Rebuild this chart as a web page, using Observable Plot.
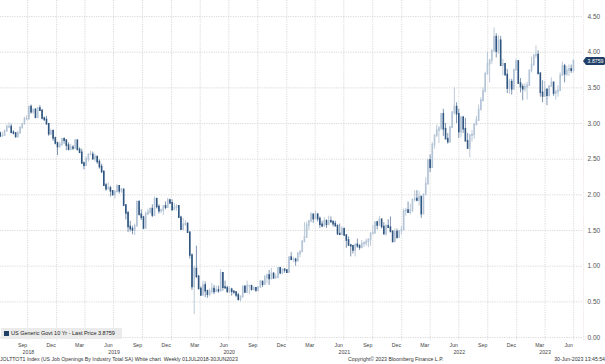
<!DOCTYPE html>
<html>
<head>
<meta charset="utf-8">
<script src="https://cdn.jsdelivr.net/npm/d3@7"></script>
<script src="https://cdn.jsdelivr.net/npm/@observablehq/plot@0.6"></script>
<style>
  html, body { margin: 0; padding: 0; background: #fff; }
  body { font-family: "Liberation Sans", Arial, sans-serif; }
  #wrap { position: relative; width: 605px; height: 364px; overflow: hidden; }
  #chart svg { display: block; }
  #legend { position: absolute; left: 1px; top: 328px; height: 11px; width: 121px; background: #ebebeb;
            font-size: 5.5px; color: #222; line-height: 11px; white-space: nowrap; }
  #legend .sw { display: inline-block; width: 5px; height: 5px; background: #1f3f66; margin: 0 2px 0 3px; vertical-align: -0.5px; }
  #tag { position: absolute; left: 586px; width: 19px; height: 8px; background: #1f3f66; color: #fff;
         font-size: 5.2px; line-height: 8px; text-align: center; border-radius: 0 1.5px 1.5px 0; }
  #tag::before { content: ""; position: absolute; left: -3px; top: 0; border-top: 4px solid transparent;
                 border-bottom: 4px solid transparent; border-right: 3px solid #1f3f66; }
  #footer { position: absolute; left: 0; top: 355px; width: 605px; height: 9px; font-size: 5.2px; color: #333; line-height: 9px; white-space: nowrap; }
  #footer span { position: absolute; top: 0; }
</style>
</head>
<body>
<div id="wrap">
  <div id="chart"></div>
  <div id="legend"><span class="sw"></span>US Generic Govt 10 Yr - Last Price 3.8759</div>
  <div id="tag">3.8759</div>
  <div id="footer">
    <span style="left:0">JOLTTOT1 Index (US Job Openings By Industry Total SA) White chart&nbsp; Weekly 01JUL2018-30JUN2023</span>
    <span style="left:348px">Copyright© 2023 Bloomberg Finance L.P.</span>
    <span style="right:0">30-Jun-2023 13:45:54</span>
  </div>
</div>
<script>
// Weekly bars (Fridays) from 6 Jul 2018 to 30 Jun 2023
const firstFriday = new Date(Date.UTC(2018, 6, 6));
const lastPrice = 3.8759;
const seriesName = "US Generic Govt 10 Yr - Last Price";

const open = [
  2.86,2.82,2.83,2.89,2.95,2.95,2.87,2.86,2.81,2.86,2.94,2.99,3.06,3.06,3.23,3.16,3.19,3.08,3.21,3.18,3.07,3.05,2.99,2.85,2.89,2.79,
  2.72,2.67,2.70,2.78,2.76,2.69,2.63,2.66,2.65,2.76,2.63,2.59,2.44,2.41,2.50,2.56,2.56,2.50,2.53,2.46,2.39,2.32,2.13,2.08,2.09,2.05,2.00,2.04,2.12,2.05,2.07,1.85,1.74,1.55,1.52,1.50,1.56,1.90,1.72,1.68,1.53,1.73,1.75,1.80,1.71,1.94,1.83,1.77,1.78,1.84,1.82,1.92,
  1.88,1.79,1.82,1.84,1.68,1.51,1.58,1.59,1.47,1.15,0.71,0.96,0.85,0.68,0.59,0.73,0.65,0.60,0.64,0.68,0.64,0.66,0.65,0.90,0.70,0.69,0.64,0.67,0.64,0.63,0.59,0.53,0.57,0.71,0.63,0.72,0.72,0.67,0.69,0.66,0.70,0.78,0.74,0.84,0.87,0.82,0.89,0.83,0.84,0.97,0.90,0.95,
  0.94,0.91,1.12,1.09,1.09,1.07,1.17,1.20,1.34,1.40,1.57,1.63,1.72,1.66,1.72,1.66,1.58,1.56,1.63,1.58,1.63,1.62,1.59,1.56,1.45,1.44,1.52,1.43,1.36,1.29,1.28,1.22,1.30,1.28,1.26,1.31,1.32,1.34,1.37,1.45,1.46,1.61,1.57,1.65,1.55,1.45,1.56,1.54,1.48,1.34,1.48,1.40,1.49,
  1.51,1.77,1.78,1.75,1.78,1.93,1.94,1.92,1.97,1.73,2.00,2.15,2.48,2.38,2.70,2.83,2.90,2.93,3.13,2.92,2.78,2.74,2.94,3.15,3.23,3.13,2.88,3.08,2.92,2.75,2.65,2.83,2.84,2.98,3.04,3.19,3.32,3.45,3.69,3.83,3.88,4.02,4.21,4.01,4.16,3.81,3.83,3.68,3.49,3.58,3.48,3.75,
  3.87,3.56,3.51,3.48,3.51,3.53,3.74,3.82,3.95,3.96,3.70,3.43,3.38,3.47,3.39,3.52,3.57,3.42,3.44,3.46,3.67,3.80,3.69,3.74,3.76,3.74
];
const high = [
  2.88,2.88,2.91,2.98,3.01,2.99,2.90,2.87,2.89,2.95,3.00,3.09,3.11,3.24,3.26,3.20,3.21,3.22,3.25,3.19,3.09,3.10,3.00,2.92,2.91,2.81,
  2.74,2.74,2.79,2.80,2.77,2.73,2.71,2.69,2.77,2.76,2.66,2.64,2.46,2.53,2.57,2.61,2.60,2.57,2.54,2.49,2.43,2.34,2.16,2.17,2.12,2.06,2.06,2.14,2.13,2.09,2.08,1.86,1.77,1.63,1.56,1.59,1.91,1.91,1.79,1.70,1.76,1.80,1.81,1.86,1.97,1.95,1.86,1.80,1.84,1.90,1.95,1.94,
  1.93,1.88,1.86,1.84,1.70,1.67,1.64,1.61,1.47,1.17,1.00,1.28,0.87,0.71,0.79,0.78,0.66,0.68,0.76,0.73,0.72,0.72,0.95,0.91,0.79,0.72,0.71,0.69,0.65,0.64,0.62,0.58,0.72,0.72,0.79,0.73,0.72,0.71,0.70,0.71,0.80,0.78,0.87,0.89,0.94,0.97,0.91,0.89,0.98,0.97,0.96,0.96,
  0.95,1.12,1.19,1.12,1.11,1.19,1.20,1.36,1.61,1.62,1.64,1.75,1.73,1.77,1.74,1.69,1.63,1.68,1.65,1.70,1.69,1.63,1.63,1.58,1.59,1.55,1.52,1.43,1.41,1.30,1.29,1.30,1.38,1.30,1.36,1.34,1.38,1.38,1.47,1.57,1.61,1.63,1.70,1.66,1.61,1.58,1.65,1.69,1.50,1.52,1.52,1.50,1.56,
  1.80,1.81,1.90,1.87,1.93,2.06,2.06,2.05,1.97,2.01,2.24,2.50,2.56,2.73,2.84,2.98,2.96,3.13,3.20,3.00,2.86,2.96,3.17,3.50,3.29,3.20,3.10,3.10,3.07,2.86,2.85,2.90,3.00,3.10,3.26,3.36,3.50,3.72,4.00,3.90,4.02,4.34,4.26,4.23,4.22,3.90,3.84,3.76,3.62,3.62,3.75,3.90,
  3.88,3.63,3.55,3.56,3.58,3.74,3.93,3.96,4.09,4.02,3.70,3.60,3.59,3.49,3.53,3.64,3.58,3.47,3.53,3.71,3.86,3.83,3.80,3.82,3.82,3.89
];
const low = [
  2.81,2.82,2.82,2.89,2.93,2.86,2.84,2.80,2.81,2.86,2.92,2.98,3.04,3.05,3.13,3.13,3.07,3.07,3.17,3.05,3.03,2.98,2.82,2.83,2.75,2.70,
  2.55,2.66,2.68,2.71,2.62,2.63,2.63,2.62,2.64,2.62,2.58,2.43,2.35,2.40,2.46,2.55,2.49,2.46,2.43,2.36,2.30,2.12,2.05,2.07,1.97,1.98,1.94,2.03,2.01,2.02,1.84,1.65,1.47,1.48,1.44,1.43,1.55,1.72,1.64,1.51,1.52,1.71,1.73,1.68,1.70,1.80,1.73,1.74,1.71,1.79,1.82,1.87,
  1.77,1.78,1.77,1.68,1.51,1.51,1.56,1.46,1.10,0.66,0.32,0.83,0.67,0.58,0.59,0.56,0.55,0.57,0.61,0.60,0.63,0.62,0.65,0.65,0.68,0.62,0.62,0.58,0.60,0.56,0.51,0.50,0.55,0.62,0.62,0.60,0.65,0.65,0.63,0.64,0.70,0.70,0.74,0.75,0.73,0.81,0.82,0.83,0.83,0.88,0.88,0.90,
  0.90,0.91,1.08,1.05,1.00,1.07,1.12,1.20,1.33,1.39,1.50,1.61,1.60,1.66,1.62,1.53,1.54,1.55,1.53,1.58,1.60,1.55,1.56,1.43,1.44,1.44,1.42,1.25,1.28,1.13,1.17,1.13,1.25,1.22,1.24,1.26,1.28,1.26,1.28,1.45,1.46,1.51,1.57,1.52,1.45,1.42,1.53,1.47,1.33,1.34,1.38,1.39,1.44,
  1.49,1.70,1.74,1.72,1.75,1.90,1.90,1.84,1.67,1.73,1.99,2.14,2.31,2.37,2.64,2.80,2.72,2.90,2.82,2.78,2.71,2.72,2.93,3.12,3.00,2.79,2.80,2.86,2.75,2.64,2.52,2.74,2.78,2.97,3.04,3.18,3.30,3.43,3.69,3.57,3.83,3.99,3.92,3.97,3.81,3.67,3.66,3.42,3.41,3.40,3.47,3.73,
  3.55,3.43,3.32,3.44,3.33,3.52,3.71,3.80,3.91,3.68,3.37,3.29,3.37,3.25,3.37,3.51,3.38,3.33,3.37,3.45,3.66,3.57,3.66,3.66,3.70,3.71
];
const close = [
  2.82,2.83,2.89,2.95,2.95,2.87,2.86,2.81,2.86,2.94,2.99,3.06,3.06,3.23,3.16,3.19,3.08,3.21,3.18,3.07,3.05,2.99,2.85,2.89,2.79,2.72,
  2.67,2.70,2.78,2.76,2.69,2.63,2.66,2.65,2.76,2.63,2.59,2.44,2.41,2.50,2.56,2.56,2.50,2.53,2.46,2.39,2.32,2.13,2.08,2.09,2.05,2.00,2.04,2.12,2.05,2.07,1.85,1.74,1.55,1.52,1.50,1.56,1.90,1.72,1.68,1.53,1.73,1.75,1.80,1.71,1.94,1.83,1.77,1.78,1.84,1.82,1.92,1.88,
  1.79,1.82,1.84,1.68,1.51,1.58,1.59,1.47,1.15,0.71,0.96,0.85,0.68,0.59,0.73,0.65,0.60,0.64,0.68,0.64,0.66,0.65,0.90,0.70,0.69,0.64,0.67,0.64,0.63,0.59,0.53,0.57,0.71,0.63,0.72,0.72,0.67,0.69,0.66,0.70,0.78,0.74,0.84,0.87,0.82,0.89,0.83,0.84,0.97,0.90,0.95,0.94,
  0.91,1.12,1.09,1.09,1.07,1.17,1.20,1.34,1.40,1.57,1.63,1.72,1.66,1.72,1.66,1.58,1.56,1.63,1.58,1.63,1.62,1.59,1.56,1.45,1.44,1.52,1.43,1.36,1.29,1.28,1.22,1.30,1.28,1.26,1.31,1.32,1.34,1.37,1.45,1.46,1.61,1.57,1.65,1.55,1.45,1.56,1.54,1.48,1.34,1.48,1.40,1.49,1.51,
  1.77,1.78,1.75,1.78,1.93,1.94,1.92,1.97,1.73,2.00,2.15,2.48,2.38,2.70,2.83,2.90,2.93,3.13,2.92,2.78,2.74,2.94,3.15,3.23,3.13,2.88,3.08,2.92,2.75,2.65,2.83,2.84,2.98,3.04,3.19,3.32,3.45,3.69,3.83,3.88,4.02,4.21,4.01,4.16,3.81,3.83,3.68,3.49,3.58,3.48,3.75,3.87,
  3.56,3.51,3.48,3.51,3.53,3.74,3.82,3.95,3.96,3.70,3.43,3.38,3.47,3.39,3.52,3.57,3.42,3.44,3.46,3.67,3.80,3.69,3.74,3.76,3.74,3.8759
];

const yTicks = [0, 0.5, 1, 1.5, 2, 2.5, 3, 3.5, 4, 4.5];
const monthNames = ["Jan","Feb","Mar","Apr","May","Jun","Jul","Aug","Sep","Oct","Nov","Dec"];
const years = [2018, 2019, 2020, 2021, 2022, 2023];

const rows = close.map((c, i) => ({
  date: d3.utcDay.offset(firstFriday, 7 * i),
  open: open[i], high: high[i], low: low[i], close: c,
  up: c >= open[i]
}));

const dataStart = rows[0].date;
const dataEnd = rows[rows.length - 1].date;
const xDomain = [new Date(Date.UTC(2018, 6, 7)), new Date(Date.UTC(2023, 7, 1))];

// quarterly labels (Sep/Dec/Mar/Jun) at mid-month; grid at the following quarter start
const monthTicks = d3.utcMonth.range(new Date(Date.UTC(2018, 8, 1)), new Date(Date.UTC(2023, 6, 1)), 3)
  .map(d => new Date(Date.UTC(d.getUTCFullYear(), d.getUTCMonth(), 15)));
const gridTicks = d3.utcMonth.range(new Date(Date.UTC(2018, 9, 1)), new Date(Date.UTC(2023, 6, 2)), 3);
const yearTicks = years.map(y => {
  const a = Math.max(+dataStart, Date.UTC(y, 0, 1));
  const b = Math.min(+dataEnd, Date.UTC(y + 1, 0, 1));
  return new Date((a + b) / 2);
});

const DARK = "#2f5581", LIGHT = "#b3c4d7", DARK_WICK = "#46688f", LIGHT_WICK = "#9fb3c9";
const GRID = "#cfcfcf";

const chart = Plot.plot({
  width: 605,
  height: 355,
  marginLeft: 0,
  marginRight: 22,
  marginTop: 0,
  marginBottom: 14,
  style: { fontFamily: "Liberation Sans, Arial, sans-serif", background: "transparent" },
  x: { type: "utc", domain: xDomain },
  y: { domain: [-0.056, 4.725], label: null },
  marks: [
    Plot.gridY(yTicks, { stroke: GRID, strokeOpacity: 1, strokeWidth: 0.8, strokeDasharray: "1.2,1.2" }),
    Plot.gridX(gridTicks, { stroke: GRID, strokeOpacity: 1, strokeWidth: 0.8, strokeDasharray: "1.2,1.2" }),
    Plot.ruleX([xDomain[1]], { stroke: "#e8d8dc", strokeWidth: 0.8, strokeDasharray: "1.2,1.2" }),
    Plot.ruleX(rows, { x: "date", y1: "low", y2: "high", stroke: d => d.up ? LIGHT_WICK : DARK_WICK, strokeWidth: 0.7 }),
    Plot.ruleX(rows, { x: "date", y1: "open", y2: "close", stroke: d => d.up ? LIGHT : DARK, strokeWidth: 1.6, strokeLinecap: "square" }),
    Plot.axisY(yTicks, { anchor: "right", tickSize: 0, tickPadding: 4, tickFormat: d => d.toFixed(2), fontSize: 6.5, fill: "#555", label: null }),
    Plot.axisX(monthTicks, { anchor: "bottom", tickSize: 0, tickPadding: 1.5, tickFormat: d => monthNames[d.getUTCMonth()], fontSize: 5.2, fill: "#444", label: null }),
    Plot.axisX(yearTicks, { anchor: "bottom", tickSize: 0, tickPadding: 8.5, tickFormat: d => String(years[yearTicks.indexOf(d)]), fontSize: 5.2, fill: "#444", label: null })
  ]
});

document.getElementById("chart").appendChild(chart);
const yPos = chart.scale("y").apply(lastPrice);
document.getElementById("tag").style.top = (yPos - 4) + "px";
</script>
</body>
</html>
